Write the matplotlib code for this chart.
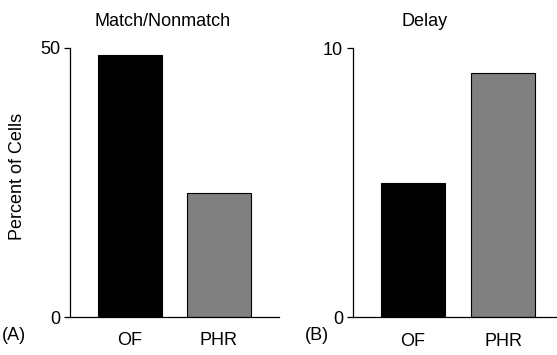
import matplotlib
matplotlib.use("Agg")
import matplotlib.pyplot as plt

plt.rcParams['font.family'] = ['Liberation Sans', 'DejaVu Sans']

categories = ["OF", "PHR"]
match_values = [48.7, 23.0]
delay_values = [5.0, 9.1]
bar_colors = ["#000000", "#808080"]
titles = ["Match/Nonmatch", "Delay"]
panel_labels = ["(A)", "(B)"]

fig = plt.figure(figsize=(5.57, 3.55), dpi=100)
H = 355.0
W = 557.0

ax1 = fig.add_axes([70 / W, 1 - 317 / H, 209 / W, 269.5 / H])
ax2 = fig.add_axes([352.7 / W, 1 - 317.3 / H, (557 - 352.7) / W, 269 / H])

x = list(range(len(categories)))
for ax, vals, ymax in [(ax1, match_values, 50), (ax2, delay_values, 10)]:
    ax.bar(x, vals, width=0.71, color=bar_colors, edgecolor="black", linewidth=0.8)
    ax.set_ylim(0, ymax)
    ax.set_yticks([0, ymax])
    ax.set_xticks(x)
    ax.set_xticklabels(categories)
    ax.spines['top'].set_visible(False)
    ax.spines['right'].set_visible(False)
    ax.spines['left'].set_linewidth(0.9)
    ax.spines['bottom'].set_linewidth(0.9)
    ax.tick_params(axis='y', direction='out', length=4, width=0.9, labelsize=13, pad=3)
    ax.tick_params(axis='x', length=0, labelsize=13, pad=11)

ax1.set_xlim(-0.675, 1.675)
ax2.set_xlim(-0.668, 1.595)

fig.text(17.5 / W, 1 - 176.5 / H, "Percent of Cells", rotation=90,
         ha='center', va='center', fontsize=13)

fig.text(163 / W, 1 - 21 / H, titles[0], ha='center', va='center', fontsize=13)
fig.text(425 / W, 1 - 21 / H, titles[1], ha='center', va='center', fontsize=13)
fig.text(2 / W, 1 - 336 / H, panel_labels[0], ha='left', va='center', fontsize=13)
fig.text(305 / W, 1 - 336 / H, panel_labels[1], ha='left', va='center', fontsize=13)

fig.savefig("out.png", dpi=100)
